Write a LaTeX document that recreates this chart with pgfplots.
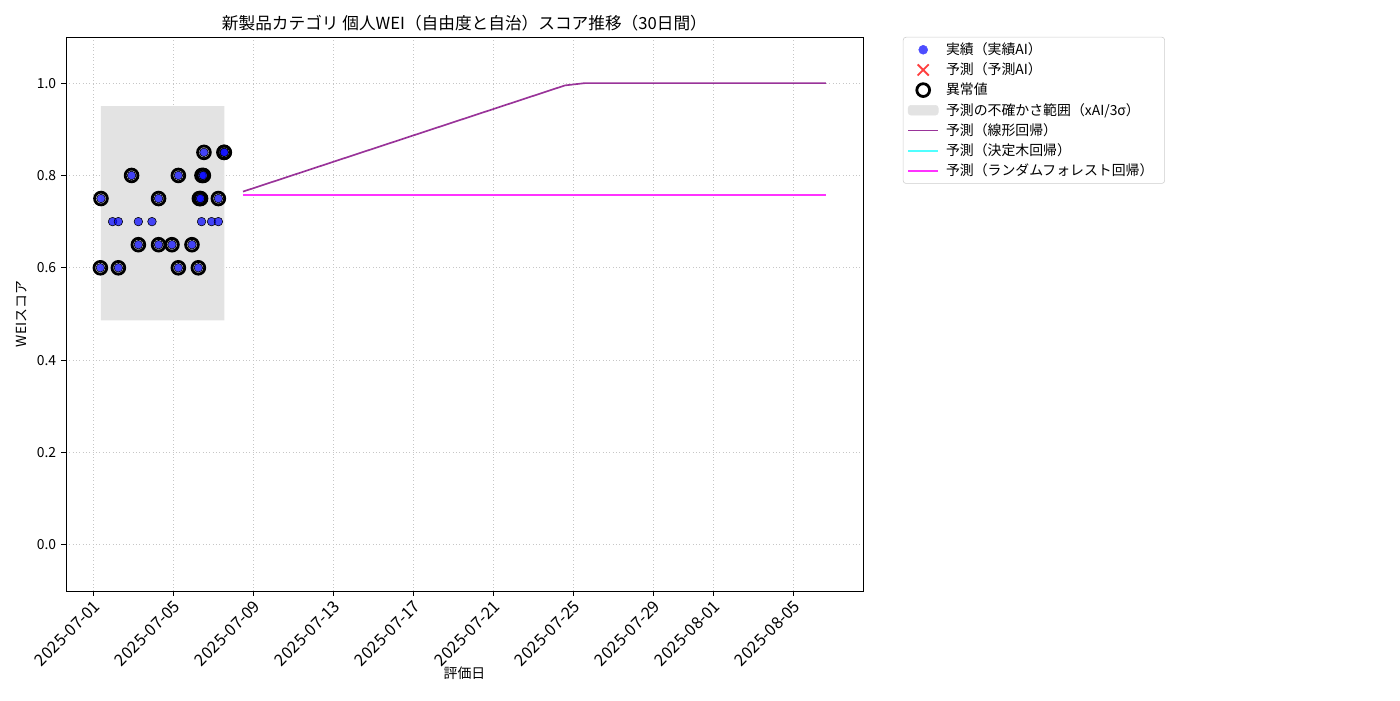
\documentclass[border=0pt]{standalone}
\usepackage{pgfplots}
\pgfplotsset{compat=1.18}
\usepackage{fontspec}
\setmainfont{Noto Sans CJK JP}
\usetikzlibrary{calc}

% days counted from 2025-07-01
\pgfplotstableread{
x y
0.40 0.75
0.37 0.60
1.27 0.60
0.98 0.70
1.27 0.70
1.93 0.80
2.27 0.70
2.27 0.65
2.95 0.70
3.28 0.75
3.28 0.65
3.95 0.65
4.27 0.80
4.27 0.60
4.95 0.65
5.27 0.60
5.32 0.75
5.38 0.75
5.45 0.80
5.52 0.80
5.43 0.70
5.55 0.85
5.93 0.70
6.27 0.75
6.27 0.70
6.55 0.85
6.57 0.85
}\actual

\pgfplotstableread{
x y
0.40 0.75
0.37 0.60
1.27 0.60
1.93 0.80
2.27 0.65
3.28 0.75
3.28 0.65
3.95 0.65
4.27 0.80
4.27 0.60
4.95 0.65
5.27 0.60
5.32 0.75
5.38 0.75
5.45 0.80
5.52 0.80
5.55 0.85
6.27 0.75
6.55 0.85
6.57 0.85
}\anomaly

\definecolor{ptblue}{RGB}{77,77,255}
\definecolor{linpurple}{RGB}{153,51,153}
\definecolor{dtcyan}{RGB}{80,255,255}
\definecolor{rfmag}{RGB}{255,51,255}
\definecolor{bandgray}{RGB}{227,227,227}

\begin{document}
\begin{tikzpicture}
\begin{axis}[
  name=main,
  scale only axis,
  width=573.8pt, height=398.9pt,
  xmin=-1.35, xmax=38.5,
  ymin=-0.1, ymax=1.1,
  xtick={0,4,8,12,16,20,24,28,31,35},
  xticklabels={2025-07-01,2025-07-05,2025-07-09,2025-07-13,2025-07-17,2025-07-21,2025-07-25,2025-07-29,2025-08-01,2025-08-05},
  xticklabel style={rotate=45, anchor=north east, font=\fontsize{11.8}{14}\selectfont, inner sep=1.5pt},
  ytick={0,0.2,0.4,0.6,0.8,1.0},
  yticklabel style={font=\fontsize{10}{12}\selectfont,
    /pgf/number format/fixed, /pgf/number format/fixed zerofill,
    /pgf/number format/precision=1},
  /pgf/number format/assume math mode=true,
  tick align=outside,
  tick style={black, line width=0.6pt},
  major tick length=3.5pt,
  xtick pos=bottom, ytick pos=left,
  grid=major,
  grid style={dotted, gray!45, line width=0.5pt},
  axis line style={line width=0.6pt},
  title={新製品カテゴリ 個人WEI（自由度と自治）スコア推移（30日間）},
  title style={font=\fontsize{12}{14}\selectfont, yshift=-5pt},
  xlabel={評価日},
  ylabel={WEIスコア},
  xlabel style={font=\fontsize{10}{12}\selectfont, yshift=6pt},
  ylabel style={font=\fontsize{10}{12}\selectfont},
  legend style={at={($(1,1)+(28.8pt,0pt)$)}, anchor=north west,
    font=\fontsize{10}{12}\selectfont, draw=gray!40, rounded corners=2pt,
    row sep=0.5pt, inner ysep=2pt, inner xsep=3pt, nodes={inner xsep=5pt}},
  legend cell align=left,
  clip=false,
]
% legend entries
\addlegendimage{legend image code/.code={\fill[ptblue] (0.38cm,0cm) circle (3.2pt);}}
\addlegendentry{実績（実績AI）}
\addlegendimage{legend image code/.code={\draw[red!75, line width=1.3pt] (0.38cm,0cm) +(-4pt,-4pt) -- +(4pt,4pt) +(-4pt,4pt) -- +(4pt,-4pt);}}
\addlegendentry{予測（予測AI）}
\addlegendimage{legend image code/.code={\draw[black, line width=2pt] (0.38cm,0cm) circle (4.6pt);}}
\addlegendentry{異常値}
\addlegendimage{legend image code/.code={\fill[bandgray] (0cm,-3.5pt) rectangle (0.76cm,3.5pt);}}
\addlegendentry{予測の不確かさ範囲（xAI/3σ）}
\addlegendimage{legend image code/.code={\draw[linpurple, line width=1.2pt] (0cm,0cm) -- (0.76cm,0cm);}}
\addlegendentry{予測（線形回帰）}
\addlegendimage{legend image code/.code={\draw[dtcyan, line width=1.2pt] (0cm,0cm) -- (0.76cm,0cm);}}
\addlegendentry{予測（決定木回帰）}
\addlegendimage{legend image code/.code={\draw[rfmag, line width=1.2pt] (0cm,0cm) -- (0.76cm,0cm);}}
\addlegendentry{予測（ランダムフォレスト回帰）}

% uncertainty band
\addplot[forget plot, fill=bandgray, draw=none] coordinates {
  (0.40,0.486) (6.57,0.486) (6.57,0.95) (0.40,0.95) (0.40,0.486)};

% actual scores
\addplot[forget plot, only marks, mark=*, mark size=3.1pt,
  mark options={draw=none, fill=blue, fill opacity=0.7}] table[x=x,y=y] {\actual};

% anomalies
\addplot[forget plot, only marks, mark=o, mark size=4.6pt,
  mark options={draw=black, line width=2pt}] table[x=x,y=y] {\anomaly};

% prediction lines
\addplot[forget plot, dtcyan, line width=1.2pt] coordinates {(7.5,0.759) (36.65,0.759)};
\addplot[forget plot, rfmag, line width=1.2pt] coordinates {(7.5,0.757) (36.65,0.757)};
\addplot[forget plot, linpurple, line width=1.2pt] coordinates {
  (7.5,0.765) (23.6,0.995) (24.6,1.0) (36.65,1.0)};
\end{axis}
\useasboundingbox ($(main.south west)+(-47.5pt,-78.5pt)$) rectangle ++(1008pt,504pt);
\end{tikzpicture}
\end{document}
